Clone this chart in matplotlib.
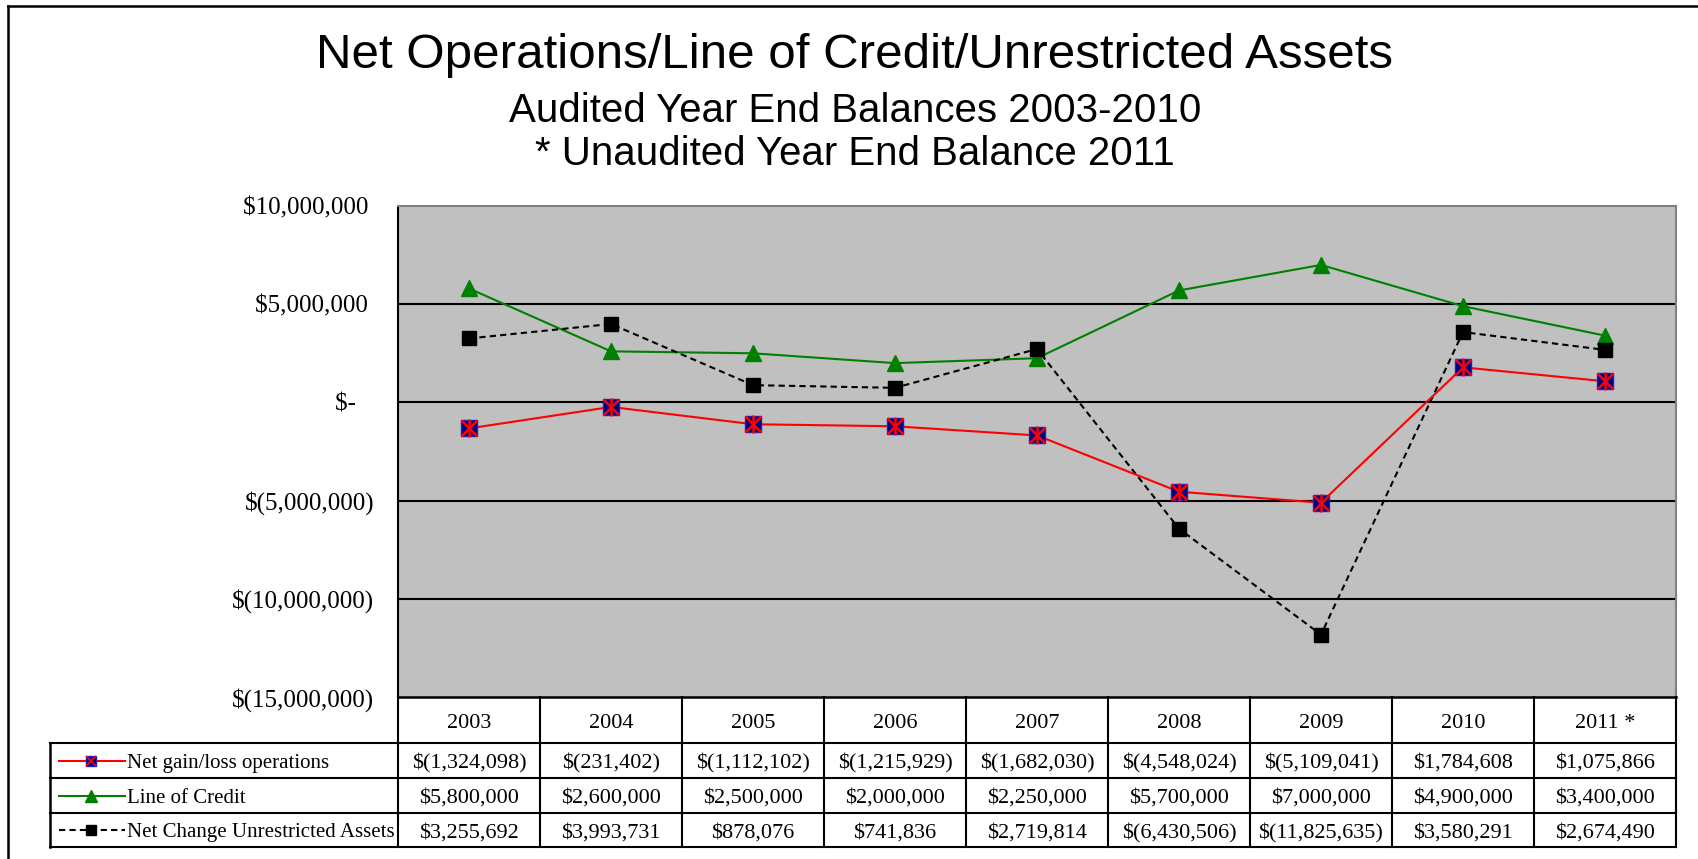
import numpy as np
import matplotlib
matplotlib.use("Agg")
from matplotlib import pyplot as plt
from matplotlib.lines import Line2D
from matplotlib import transforms

# данные из таблицы
years = ["2003", "2004", "2005", "2006", "2007", "2008", "2009", "2010", "2011 *"]
net_gain = [-1324098, -231402, -1112102, -1215929, -1682030, -4548024, -5109041, 1784608, 1075866]
line_credit = [5800000, 2600000, 2500000, 2000000, 2250000, 5700000, 7000000, 4900000, 3400000]
net_change = [3255692, 3993731, 878076, 741836, 2719814, -6430506, -11825635, 3580291, 2674490]
series_names = ["Net gain/loss operations", "Line of Credit", "Net Change Unrestricted Assets"]
y_ticks = [-15000000, -10000000, -5000000, 0, 5000000, 10000000]

W, H = 1699, 859
SERIF = "Liberation Serif"
SANS = "Liberation Sans"


def money(v):
    # формат как в Excel (бухгалтерский)
    if v < 0:
        return "$({:,})".format(-v)
    return "${:,}".format(v)


def tick_label(v):
    if v == 0:
        return "$-   "
    if v < 0:
        return "$({:,})".format(-v)
    return "${:,} ".format(v)


def fx(px):
    return px / W


def fy(py):
    return 1 - py / H


fig = plt.figure(figsize=(W / 100, H / 100), dpi=100)

# рамка вокруг диаграммы
fig.add_artist(Line2D([fx(8), fx(8)], [fy(6), 0], color="black", lw=1.8, transform=fig.transFigure))
fig.add_artist(Line2D([fx(8), 1], [fy(6), fy(6)], color="black", lw=1.8, transform=fig.transFigure))

# заголовки
fig.text(fx(855), fy(56), "Net Operations/Line of Credit/Unrestricted Assets", family=SANS,
         fontsize=35.5, ha="center", va="center")
fig.text(fx(855), fy(111), "Audited Year End Balances 2003-2010", family=SANS,
         fontsize=29, ha="center", va="center")
fig.text(fx(855), fy(154), "* Unaudited Year End Balance 2011", family=SANS,
         fontsize=29, ha="center", va="center")

left, right, top, bottom = 398, 1676, 206, 697
ax = fig.add_axes([fx(left), fy(bottom), fx(right - left), (bottom - top) / H])
ax.set_facecolor("#C0C0C0")
x = np.arange(len(years))
ax.set_xlim(-0.5, len(years) - 0.5)
ax.set_ylim(y_ticks[0], y_ticks[-1])

for t in y_ticks[1:-1]:
    ax.axhline(t, color="black", lw=1.5, zorder=1)

ax.plot(x, line_credit, color="#008000", lw=1.5, marker="^", ms=12, mfc="#008000", mec="#008000", zorder=3)
ax.plot(x, net_change, color="black", lw=1.5, ls=(0, (3, 2)), marker="s", ms=10.5, mfc="black", mec="black", zorder=3)
ax.plot(x, net_gain, color="red", lw=1.5, marker="s", ms=11.5, mfc="#000080", mec="#2020c0", zorder=4)
ax.plot(x, net_gain, ls="none", marker="x", ms=11.5, mec="red", mew=1.8, zorder=5)
ax.plot(x, net_gain, ls="none", marker="|", ms=12.5, mec="red", mew=1.8, zorder=5)

ax.set_yticks(y_ticks)
ax.set_yticklabels([tick_label(t) for t in y_ticks], family=SERIF, fontsize=18)
ax.tick_params(axis="y", length=0, pad=17)
ax.set_xticks([])
ax.spines["left"].set_color("black")
ax.spines["left"].set_linewidth(1.5)
ax.spines["bottom"].set_color("black")
ax.spines["bottom"].set_linewidth(1.8)
for s in ["top", "right"]:
    ax.spines[s].set_color("#808080")
    ax.spines[s].set_linewidth(1.5)

# таблица данных под графиком
tr = transforms.blended_transform_factory(ax.transData, fig.transFigure)
rows = [743, 778, 813, 847]
legend_left = 50
shift = 3  # текст в ячейках чуть ниже центра

for i in range(len(years) + 1):
    fig.add_artist(Line2D([i - 0.5, i - 0.5], [fy(bottom), fy(rows[-1])], color="black", lw=1.5, transform=tr))
fig.add_artist(Line2D([fx(legend_left)] * 2, [fy(rows[0]), fy(rows[-1])], color="black", lw=1.8,
                      transform=fig.transFigure))
for r in rows:
    fig.add_artist(Line2D([fx(legend_left), fx(right)], [fy(r), fy(r)], color="black", lw=1.5,
                          transform=fig.transFigure))

for i, yr in enumerate(years):
    fig.text(i, fy((bottom + rows[0]) / 2 + shift), yr, transform=tr, family=SERIF, fontsize=16,
             ha="center", va="center")

all_series = [net_gain, line_credit, net_change]
for k, vals in enumerate(all_series):
    yc = fy((rows[k] + rows[k + 1]) / 2 + shift)
    for i, v in enumerate(vals):
        fig.text(i, yc, money(v), transform=tr, family=SERIF, fontsize=16, ha="center", va="center")
    fig.text(fx(127), yc, series_names[k], family=SERIF, fontsize=15, ha="left", va="center")

# ключи легенды
kx = [fx(59), fx(125)]
y0 = fy((rows[0] + rows[1]) / 2)
fig.add_artist(Line2D(kx, [y0, y0], color="red", lw=1.5, transform=fig.transFigure))
fig.add_artist(Line2D([fx(91)], [y0], ls="none", marker="s", ms=7, mfc="#000080", mec="#2020c0",
                      transform=fig.transFigure))
fig.add_artist(Line2D([fx(91)], [y0], ls="none", marker="x", ms=7, mec="red", mew=1.3, transform=fig.transFigure))
y1 = fy((rows[1] + rows[2]) / 2)
fig.add_artist(Line2D(kx, [y1, y1], color="#008000", lw=1.5, marker=None, transform=fig.transFigure))
fig.add_artist(Line2D([fx(91)], [y1], ls="none", marker="^", ms=8, mfc="#008000", mec="#008000",
                      transform=fig.transFigure))
y2 = fy((rows[2] + rows[3]) / 2)
fig.add_artist(Line2D(kx, [y2, y2], color="black", lw=1.5, ls=(0, (3, 2)), transform=fig.transFigure))
fig.add_artist(Line2D([fx(91)], [y2], ls="none", marker="s", ms=7, mfc="black", mec="black",
                      transform=fig.transFigure))

fig.savefig("out.png", dpi=100)
